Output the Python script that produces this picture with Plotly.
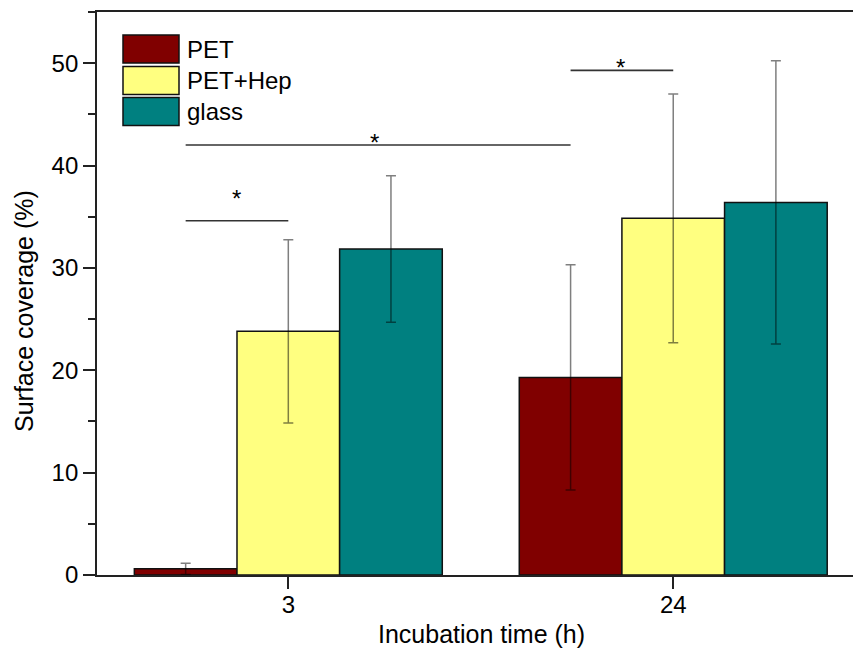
import plotly.graph_objects as go

categories = ["3", "24"]
series_names = ["PET", "PET+Hep", "glass"]
pet = [0.6, 19.3]
pet_err = [0.55, 11.0]
hep = [23.8, 34.85]
hep_err = [8.95, 12.15]
glass = [31.85, 36.4]
glass_err = [7.16, 13.83]
colors = ["#800000", "#FFFF80", "#008080"]

# significance brackets (category-index units) and star positions
sig_x0 = [-0.2667, -0.2667, 0.7333]
sig_x1 = [0.0, 0.7333, 1.0]
sig_y = [34.6, 42.0, 49.3]
star_x = [-0.135, 0.223, 0.864]
star_y = [37.3, 42.7, 50.1]

FONT = "Liberation Sans, Arial, sans-serif"

fig = go.Figure()
for name, vals, errs, col in zip(series_names, [pet, hep, glass], [pet_err, hep_err, glass_err], colors):
    fig.add_trace(go.Bar(
        x=categories, y=vals, name=name,
        marker=dict(color=col, line=dict(color="#111111", width=1.5)),
        error_y=dict(type="data", array=errs, visible=True,
                     color="rgba(0,0,0,0.5)", thickness=1.5, width=5),
        showlegend=False,
    ))

for x0, x1, y in zip(sig_x0, sig_x1, sig_y):
    fig.add_shape(type="line", xref="x", yref="y", x0=x0, x1=x1, y0=y, y1=y,
                  line=dict(color="#333333", width=1.6))
for sx, sy in zip(star_x, star_y):
    fig.add_annotation(x=sx, y=sy, xref="x", yref="y", text="*",
                       showarrow=False, yanchor="middle", yshift=-5,
                       font=dict(family=FONT, size=24, color="black"))

# custom legend (boxes + labels), pixel-derived paper coords
W, H = 853, 649
ml, mt, mb, mr = 97, 12, 74, 0
pw, ph = W - ml - mr, H - mt - mb
def px(xp):
    return (xp - ml) / pw
def py(yp):
    return (H - mb - yp) / ph

leg_tops = [35, 66.5, 97.5]
for name, col, top in zip(series_names, colors, leg_tops):
    fig.add_shape(type="rect", xref="paper", yref="paper",
                  x0=px(123), x1=px(179), y0=py(top + 28), y1=py(top),
                  fillcolor=col, line=dict(color="#111111", width=1.5))
    fig.add_annotation(xref="paper", yref="paper", x=px(185), y=py(top + 14),
                       text=name, showarrow=False, xanchor="left", yanchor="middle",
                       font=dict(family=FONT, size=24, color="black"))

# axis titles as annotations
fig.add_annotation(xref="paper", yref="paper", x=px(481), y=py(634),
                   text="Incubation time (h)", showarrow=False,
                   xanchor="center", yanchor="middle",
                   font=dict(family=FONT, size=25, color="black"))
fig.add_annotation(xref="paper", yref="paper", x=px(24), y=py(311),
                   text="Surface coverage (%)", showarrow=False, textangle=-90,
                   xanchor="center", yanchor="middle",
                   font=dict(family=FONT, size=25, color="black"))

fig.update_layout(
    width=W, height=H,
    margin=dict(l=ml, r=mr, t=mt, b=mb, autoexpand=False),
    paper_bgcolor="white", plot_bgcolor="white",
    barmode="group", bargap=0.2, bargroupgap=0,
    font=dict(family=FONT, size=24, color="black"),
    showlegend=False,
)
fig.update_xaxes(
    type="category", range=[-0.497, 1.467],
    showline=True, linecolor="#222222", linewidth=1.8, mirror=True,
    ticks="outside", ticklen=12, tickwidth=1.8, tickcolor="#222222",
    tickfont=dict(family=FONT, size=24), ticklabelstandoff=-5,
    showgrid=False, zeroline=False, automargin=False,
)
fig.update_yaxes(
    range=[0, 55], dtick=10, tick0=0,
    showline=True, linecolor="#222222", linewidth=1.8, mirror=False,
    ticks="outside", ticklen=12, tickwidth=1.8, tickcolor="#222222",
    tickfont=dict(family=FONT, size=24),
    minor=dict(dtick=5, ticks="outside", ticklen=7, tickwidth=1.8, tickcolor="#222222", showgrid=False),
    showgrid=False, zeroline=False, automargin=False,
)

fig.write_html("out.html", config={"displayModeBar": False},
               post_script="document.body.style.margin='0';")
